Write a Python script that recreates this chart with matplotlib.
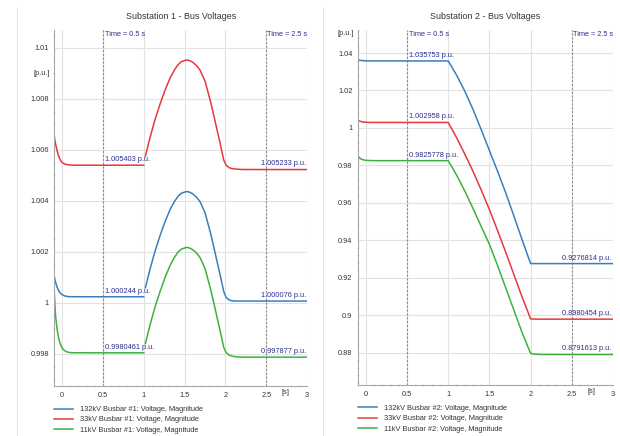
import matplotlib
matplotlib.use('Agg')
import matplotlib.pyplot as plt
import numpy as np
from matplotlib.ticker import MultipleLocator, AutoMinorLocator, FuncFormatter
from matplotlib.lines import Line2D

plt.rcParams['font.family'] = ['Liberation Sans', 'DejaVu Sans']

nan = np.nan

# ---- Substation 1 ----
s1_t = [-0.095, -0.08, -0.06, -0.04, -0.02, 0.0, 0.03, 0.07, 0.12, 0.5, 1.0, nan,
        1.02, 1.08, 1.14, 1.2, 1.26, 1.325, 1.38, 1.42, 1.46, 1.52, 1.56, 1.6, 1.65,
        1.69, 1.75, 1.82, 1.86, 1.9, 1.94, 1.98, 2.01, 2.05, 2.1, 2.2, 2.5, 3.0]
s1_132 = [1.00103, 1.00082, 1.00061, 1.00047, 1.00038, 1.00033, 1.00028, 1.00025, 1.000246,
          1.000244, 1.000244, nan,
          1.00060, 1.00136, 1.00205, 1.00264, 1.00318, 1.00368, 1.00400, 1.00418, 1.00430,
          1.00437, 1.00435, 1.00428, 1.00414, 1.00397, 1.00355, 1.00272, 1.00217, 1.00160,
          1.00104, 1.00045, 1.00021, 1.00011, 1.00008, 1.000077, 1.000076, 1.000076]
s1_33 = [1.00652, 1.00624, 1.00596, 1.00574, 1.00560, 1.00551, 1.00545, 1.00542, 1.005405,
         1.005403, 1.005403, nan,
         1.00576, 1.00652, 1.00721, 1.00780, 1.00834, 1.00884, 1.00916, 1.00934, 1.00946,
         1.00953, 1.00951, 1.00944, 1.00930, 1.00913, 1.00871, 1.00788, 1.00733, 1.00676,
         1.00620, 1.00561, 1.00540, 1.00530, 1.00526, 1.005236, 1.005233, 1.005233]
s1_11 = [1.00040, 0.99950, 0.99894, 0.99860, 0.99838, 0.99824, 0.99813, 0.99807, 0.998049,
         0.9980461, 0.9980461, nan,
         0.99841, 0.99917, 0.99986, 1.00045, 1.00099, 1.00149, 1.00181, 1.00199, 1.00211,
         1.00218, 1.00216, 1.00209, 1.00195, 1.00178, 1.00136, 1.00053, 0.99998, 0.99941,
         0.99885, 0.99826, 0.99805, 0.99795, 0.99790, 0.997879, 0.997877, 0.997877]
s1_left_labels = ['1.000244', '1.005403', '0.9980461']
s1_right_labels = ['1.000076', '1.005233', '0.997877']

# ---- Substation 2 ----
s2_t = [-0.096, -0.07, -0.04, 0.0, 0.05, 0.12, 0.5, 1.0, 1.1, 1.2, 1.3, 1.4, 1.5,
        1.6, 1.7, 1.8, 1.9, 2.0, 2.05, 2.15, 2.5, 3.0]
s2_132 = [1.0363, 1.0361, 1.03595, 1.03582, 1.03577, 1.035755, 1.035753, 1.035753,
          1.0283, 1.0198, 1.0100, 0.9992, 0.9880, 0.9768, 0.9652, 0.9527, 0.9400,
          0.9277, 0.92769, 0.927682, 0.9276814, 0.9276814]
s2_33 = [1.0040, 1.0036, 1.00325, 1.00305, 1.00298, 1.002962, 1.002958, 1.002958,
         0.9950, 0.9862, 0.9770, 0.9670, 0.9565, 0.9452, 0.9335, 0.9215, 0.9095,
         0.8982, 0.89807, 0.898047, 0.8980454, 0.8980454]
s2_11 = [0.9850, 0.9838, 0.9831, 0.98275, 0.98262, 0.98258, 0.9825778, 0.9825778,
         0.9750, 0.9665, 0.9572, 0.9475, 0.9380, 0.9265, 0.9145, 0.9025, 0.8905,
         0.8798, 0.87935, 0.87918, 0.8791613, 0.8791613]
s2_left_labels = ['1.035753', '1.002958', '0.9825778']
s2_right_labels = ['0.9276814', '0.8980454', '0.8791613']

marker_times = [0.5, 2.5]
colors = ['#3a7ebf', '#e8383d', '#3cb23c']
text_color = '#2b2f8f'
fs = 5.3

fig = plt.figure(figsize=(6.2, 4.36), dpi=100)
ax1 = fig.add_axes([0.0876, 0.1147, 0.4076, 0.8165])
ax2 = fig.add_axes([0.5774, 0.1170, 0.4113, 0.8142])

# faint panel borders
for xb in [17 / 620, 323 / 620]:
    fig.add_artist(Line2D([xb, xb], [0, 0.982], color='#e4e4e4', lw=0.8))


def style(ax, ylim, ymajor, nminor, title):
    ax.set_xlim(-0.095, 3.0)
    ax.set_ylim(*ylim)
    ax.xaxis.set_major_locator(MultipleLocator(0.5))
    ax.xaxis.set_minor_locator(MultipleLocator(0.1))
    ax.yaxis.set_major_locator(MultipleLocator(ymajor))
    ax.yaxis.set_minor_locator(AutoMinorLocator(nminor))
    ax.xaxis.set_major_formatter(FuncFormatter(lambda v, _: f'{v:g}'))
    ax.yaxis.set_major_formatter(FuncFormatter(lambda v, _: f'{round(v, 6):g}'))
    ax.grid(True, which='major', color='#e2e2e2', lw=0.8)
    ax.set_axisbelow(True)
    for s in ['top', 'right']:
        ax.spines[s].set_visible(False)
    for s in ['left', 'bottom']:
        ax.spines[s].set_color('#a8a8a8')
        ax.spines[s].set_linewidth(0.8)
    ax.tick_params(which='major', length=0, labelsize=fs, colors='#333333', pad=4)
    ax.tick_params(which='minor', length=2, width=0.6, color='#cfcfcf', direction='inout')
    ax.set_title(title, fontsize=6.4, color='#333333', pad=8)
    for tm in marker_times:
        ax.axvline(tm, color='#8a8a8a', lw=0.8, ls=(0, (2, 1.5)))
    ax.text(0.5 + 0.02, 0.996, 'Time = 0.5 s', transform=ax.get_xaxis_transform(),
            fontsize=fs, color=text_color, va='top', ha='left')
    ax.text(3.0, 0.996, 'Time = 2.5 s', transform=ax.get_xaxis_transform(),
            fontsize=fs, color=text_color, va='top', ha='right')
    ax.text(2.74, -0.019, '[s]', transform=ax.get_xaxis_transform(),
            fontsize=fs, color='#333333', va='center', ha='center')


def draw(ax, t, series, left_labels, right_labels, bus):
    names = [f'132kV Busbar #{bus}: Voltage, Magnitude',
             f'33kV Busbar #{bus}: Voltage, Magnitude',
             f'11kV Busbar #{bus}: Voltage, Magnitude']
    for vals, c, name in zip(series, colors, names):
        ax.plot(t, vals, color=c, lw=1.1, label=name)
    for lab in left_labels:
        ax.annotate(f'{lab} p.u.', (0.5, float(lab)), xytext=(1.5, 1.5),
                    textcoords='offset points', fontsize=fs, color=text_color,
                    ha='left', va='bottom')
    for lab in right_labels:
        ax.annotate(f'{lab} p.u.', (3.0, float(lab)), xytext=(-1, 1.5),
                    textcoords='offset points', fontsize=fs, color=text_color,
                    ha='right', va='bottom')
    ax.legend(loc='upper left', bbox_to_anchor=(0, -0.056), frameon=False,
              fontsize=fs, handlelength=2.6, handletextpad=0.9, labelspacing=0.42,
              borderpad=0, borderaxespad=0, labelcolor='#333333')


style(ax1, (0.996745, 1.010706), 0.002, 4, 'Substation 1 - Bus Voltages')
draw(ax1, s1_t, [s1_132, s1_33, s1_11], s1_left_labels, s1_right_labels, 1)
ax1.text(-0.017, 1.009, '[p.u.]', transform=ax1.get_yaxis_transform(),
         fontsize=fs, color='#333333', ha='right', va='center')

style(ax2, (0.86293, 1.05227), 0.02, 5, 'Substation 2 - Bus Voltages')
draw(ax2, s2_t, [s2_132, s2_33, s2_11], s2_left_labels, s2_right_labels, 2)
ax2.text(-0.015, 0.989, '[p.u.]', transform=ax2.transAxes,
         fontsize=fs, color='#333333', ha='right', va='center')

fig.savefig('out.png', dpi=100, facecolor='white')
